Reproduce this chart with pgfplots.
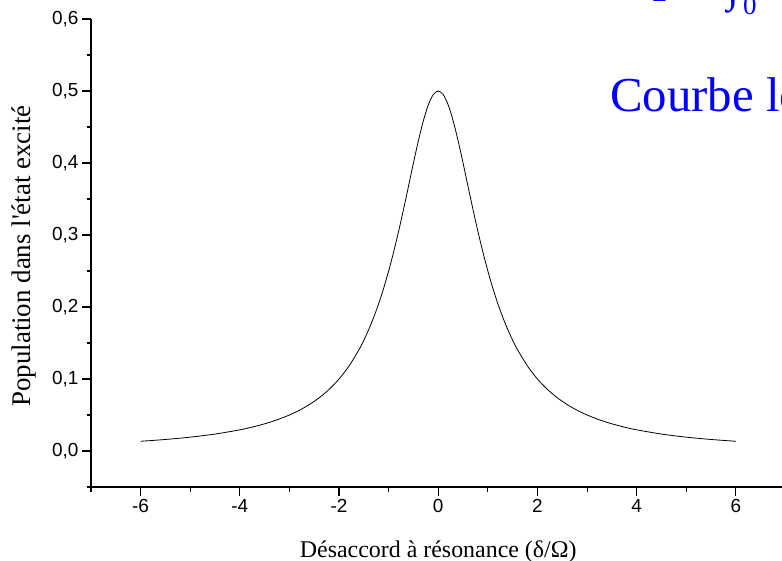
\documentclass[border=0pt]{standalone}
\usepackage{fontspec}
\setmainfont{Liberation Serif}
\newfontfamily\tnr{Liberation Serif}
\newfontfamily\arial{Liberation Sans}
\usepackage{pgfplots}
\pgfplotsset{compat=1.18}
\usepackage{pgfplotstable}

% Excited-state population versus detuning (delta/Omega)
\pgfplotstableread{
x y
-6.0 0.01351
-5.5 0.01600
-5.0 0.01923
-4.5 0.02353
-4.0 0.02941
-3.75 0.03320
-3.5 0.03774
-3.25 0.04324
-3.0 0.05000
-2.8 0.05656
-2.6 0.06443
-2.4 0.07396
-2.2 0.08562
-2.0 0.10000
-1.8 0.11792
-1.6 0.14045
-1.5 0.15385
-1.4 0.16892
-1.3 0.18587
-1.2 0.20492
-1.1 0.22624
-1.0 0.25000
-0.9 0.27624
-0.8 0.30488
-0.7 0.33557
-0.6 0.36765
-0.5 0.40000
-0.4 0.43103
-0.3 0.45872
-0.2 0.48077
-0.1 0.49505
0.0 0.50000
0.1 0.49505
0.2 0.48077
0.3 0.45872
0.4 0.43103
0.5 0.40000
0.6 0.36765
0.7 0.33557
0.8 0.30488
0.9 0.27624
1.0 0.25000
1.1 0.22624
1.2 0.20492
1.3 0.18587
1.4 0.16892
1.5 0.15385
1.6 0.14045
1.8 0.11792
2.0 0.10000
2.2 0.08562
2.4 0.07396
2.6 0.06443
2.8 0.05656
3.0 0.05000
3.25 0.04324
3.5 0.03774
3.75 0.03320
4.0 0.02941
4.5 0.02353
5.0 0.01923
5.5 0.01600
6.0 0.01351
}\lorentz

\begin{document}
\begin{tikzpicture}
\begin{axis}[
  at={(91bp,74bp)}, anchor=south west,
  scale only axis, width=694.5bp, height=468bp,
  xmin=-7, xmax=7, ymin=-0.05, ymax=0.6,
  axis x line=bottom, axis y line=left,
  axis line style={-, line width=1.1bp, black},
  tick align=outside,
  major tick length=9bp, minor tick length=4.5bp,
  every tick/.style={line width=1.1bp, black},
  xtick={-6,-4,-2,0,2,4,6},
  minor xtick={-7,-5,-3,-1,1,3,5,7},
  ytick={0,0.1,0.2,0.3,0.4,0.5,0.6},
  minor ytick={-0.05,0.05,0.15,0.25,0.35,0.45,0.55},
  /pgf/number format/assume math mode=true,
  tick label style={font=\arial\fontsize{19}{19}\selectfont},
  y tick label style={/pgf/number format/.cd, fixed, fixed zerofill, precision=1, use comma},
  xlabel={Désaccord à résonance (δ/Ω)},
  ylabel={Population dans l'état excité},
  xlabel style={font=\tnr\fontsize{24}{24}\selectfont,
                at={(axis description cs:0.5,0)}, anchor=base, yshift=-70bp},
  ylabel style={font=\tnr\fontsize{27}{27}\selectfont,
                at={(axis description cs:-0.0864,0.4936)}, anchor=base},
]
\addplot[black, line width=0.8bp, smooth] table[x=x, y=y] {\lorentz};
\end{axis}

\node[anchor=base west, inner sep=0pt, text=blue,
      font=\tnr\fontsize{49}{49}\selectfont] at (610bp,449bp) {Courbe lorentzienne};
\node[anchor=base west, inner sep=0pt, text=blue,
      font=\tnr\fontsize{44}{44}\selectfont] at (652bp,559bp) {Γ =};
\node[anchor=base west, inner sep=0pt, text=blue,
      font=\tnr\fontsize{44}{44}\selectfont] at (727bp,559bp)
      {∫\kern4bp\raisebox{-13bp}{\fontsize{27}{27}\selectfont 0}};

\pgfresetboundingbox
\useasboundingbox (0,0) rectangle (782bp,561bp);
\end{tikzpicture}
\end{document}
